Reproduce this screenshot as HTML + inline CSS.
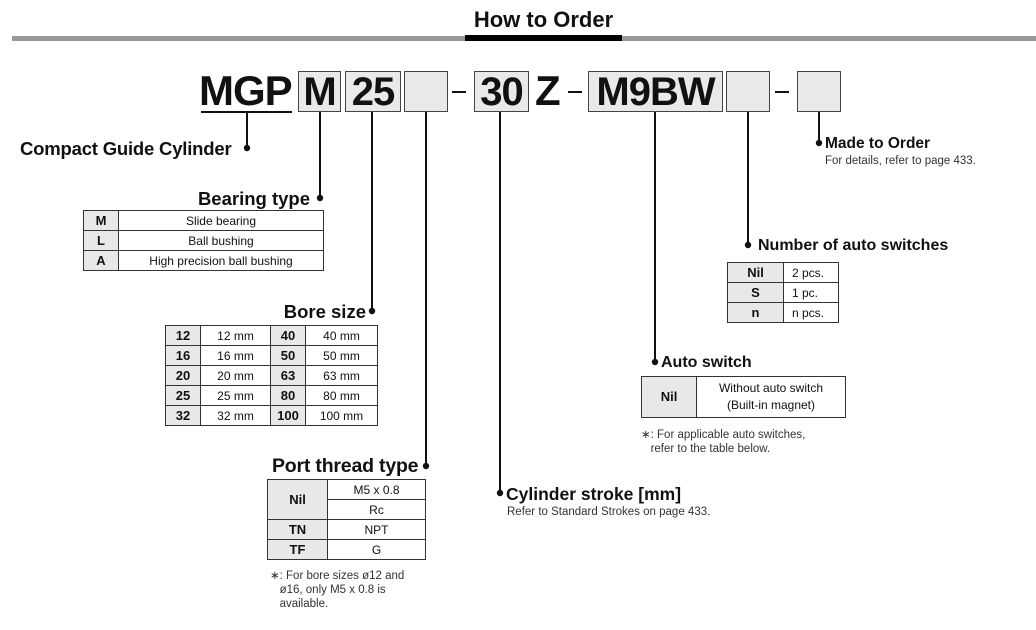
<!DOCTYPE html>
<html><head><meta charset="utf-8"><style>
body{margin:0;width:1036px;height:630px;background:#fff;position:relative;overflow:hidden;font-family:"Liberation Sans",Arial,sans-serif;color:#111}
.a{position:absolute;white-space:nowrap}
.b{font-weight:bold}
.box{position:absolute;top:71px;height:39px;background:#e9e9e9;border:1.5px solid #444;box-sizing:content-box;font-weight:bold;font-size:40px;line-height:40px;text-align:center;letter-spacing:-1px}
table{position:absolute;border-collapse:collapse;font-size:12px}
td{border:1px solid #333;padding:0;text-align:center;height:19px;line-height:18px}
td.k{background:#e8e8e8;font-weight:bold;font-size:13px}
table{border:1.5px solid #333}
.n{font-size:11.5px;color:#333;line-height:14px}
</style></head><body>
<svg class="a" style="left:0;top:0" width="1036" height="630">
<rect x="12" y="36" width="1024" height="5" fill="#999"/>
<rect x="465" y="35" width="157" height="6" fill="#000"/>
<g stroke="#111" stroke-width="2">
<line x1="201" y1="112" x2="292" y2="112"/>
<line x1="247" y1="112" x2="247" y2="148"/>
<line x1="320" y1="112" x2="320" y2="198"/>
<line x1="372" y1="112" x2="372" y2="311"/>
<line x1="426" y1="112" x2="426" y2="466"/>
<line x1="500" y1="112" x2="500" y2="493"/>
<line x1="655" y1="112" x2="655" y2="362"/>
<line x1="748" y1="112" x2="748" y2="245"/>
<line x1="819" y1="112" x2="819" y2="143"/>
<line x1="452" y1="92" x2="466" y2="92"/>
<line x1="568" y1="92" x2="582" y2="92"/>
<line x1="775" y1="92" x2="789" y2="92"/>
</g>
<g fill="#111">
<circle cx="247" cy="148" r="3.2"/><circle cx="320" cy="198" r="3.2"/><circle cx="372" cy="311" r="3.2"/>
<circle cx="426" cy="466" r="3.2"/><circle cx="500" cy="493" r="3.2"/><circle cx="655" cy="362" r="3.2"/>
<circle cx="748" cy="245" r="3.2"/><circle cx="819" cy="143" r="3.2"/>
</g>
</svg>
<div class="a b" style="left:465px;top:7px;width:157px;text-align:center;font-size:22px">How to Order</div>
<div class="a b" style="left:199px;top:67px;font-size:42px;letter-spacing:-1px">MGP</div>
<div class="box" style="left:298px;width:41px">M</div>
<div class="box" style="left:345px;width:54px">25</div>
<div class="box" style="left:404px;width:42px"></div>
<div class="box" style="left:474px;width:53px">30</div>
<div class="a b" style="left:535px;top:67px;font-size:42px">Z</div>
<div class="box" style="left:588px;width:133px">M9BW</div>
<div class="box" style="left:726px;width:42px"></div>
<div class="box" style="left:797px;width:42px"></div>

<div class="a b" style="left:20px;top:138px;font-size:18.5px;letter-spacing:-0.2px">Compact Guide Cylinder</div>
<div class="a b" style="left:180px;top:188px;width:130px;text-align:right;font-size:18.5px">Bearing type</div>
<table style="left:83px;top:210px;width:241px"><tr><td class="k" style="width:34px">M</td><td>Slide bearing</td></tr><tr><td class="k">L</td><td>Ball bushing</td></tr><tr><td class="k">A</td><td>High precision ball bushing</td></tr></table>

<div class="a b" style="left:236px;top:301px;width:130px;text-align:right;font-size:18.5px">Bore size</div>
<table style="left:165px;top:325px;width:213px"><tr><td class="k" style="width:34px">12</td><td style="width:69px">12 mm</td><td class="k" style="width:34px">40</td><td>40 mm</td></tr><tr><td class="k">16</td><td>16 mm</td><td class="k">50</td><td>50 mm</td></tr><tr><td class="k">20</td><td>20 mm</td><td class="k">63</td><td>63 mm</td></tr><tr><td class="k">25</td><td>25 mm</td><td class="k">80</td><td>80 mm</td></tr><tr><td class="k">32</td><td>32 mm</td><td class="k">100</td><td>100 mm</td></tr></table>

<div class="a b" style="left:272px;top:455px;font-size:19.5px;letter-spacing:-0.2px">Port thread type</div>
<table style="left:267px;top:479px;width:159px"><tr><td class="k" rowspan="2" style="width:59px">Nil</td><td>M5 x 0.8</td></tr><tr><td>Rc</td></tr><tr><td class="k">TN</td><td>NPT</td></tr><tr><td class="k">TF</td><td>G</td></tr></table>
<div class="a n" style="left:270px;top:569px">∗: For bore sizes ø12 and<br>&nbsp;&nbsp;&nbsp;ø16, only M5 x 0.8 is<br>&nbsp;&nbsp;&nbsp;available.</div>

<div class="a b" style="left:506px;top:484px;font-size:17.5px">Cylinder stroke [mm]</div>
<div class="a n" style="left:507px;top:505px">Refer to Standard Strokes on page 433.</div>

<div class="a b" style="left:661px;top:354px;font-size:16px">Auto switch</div>
<table style="left:641px;top:376px;width:205px"><tr><td class="k" style="width:54px;height:40px">Nil</td><td style="line-height:17px">Without auto switch<br>(Built-in magnet)</td></tr></table>
<div class="a n" style="left:641px;top:428px">∗: For applicable auto switches,<br>&nbsp;&nbsp;&nbsp;refer to the table below.</div>

<div class="a b" style="left:758px;top:237px;font-size:16px">Number of auto switches</div>
<table style="left:727px;top:262px;width:112px"><tr><td class="k" style="width:55px">Nil</td><td style="text-align:left;padding-left:8px">2 pcs.</td></tr><tr><td class="k">S</td><td style="text-align:left;padding-left:8px">1 pc.</td></tr><tr><td class="k">n</td><td style="text-align:left;padding-left:8px">n pcs.</td></tr></table>

<div class="a b" style="left:825px;top:135px;font-size:15.5px">Made to Order</div>
<div class="a n" style="left:825px;top:154px">For details, refer to page 433.</div>
</body></html>
